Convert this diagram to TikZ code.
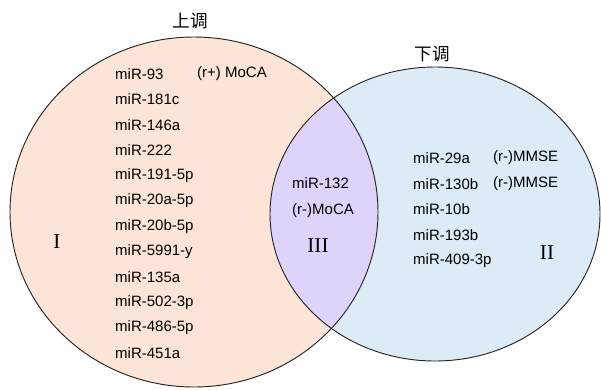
\documentclass[tikz,border=0pt]{standalone}
\usepackage{fontspec}
\setmainfont{Liberation Serif}
\setsansfont{Liberation Sans}
\newfontfamily\cjk{Noto Sans CJK SC}
\usetikzlibrary{positioning}
\definecolor{shang}{HTML}{FCE4D6}
\definecolor{xia}{HTML}{DDEBF7}
\definecolor{kozos}{HTML}{E0D3FB}
\tikzset{
  mir/.style={anchor=west,inner sep=0pt,font=\sffamily\fontsize{12.8}{15}\selectfont},
  rom/.style={inner sep=0pt,font=\fontsize{18}{20}\selectfont},
  cim/.style={inner sep=0pt,font=\cjk\fontsize{15}{18}\selectfont},
  kor/.style={draw=black!85,line width=0.8pt},
}

\begin{document}
\begin{tikzpicture}[x=0.03cm,y=-0.03cm]
  \useasboundingbox (0,0) rectangle (601,389);
  % the two sets and their overlap
  \fill[shang] (194,212) ellipse [x radius=184,y radius=175];
  \fill[xia] (435,214) ellipse [x radius=165,y radius=147];
  \begin{scope}
    \clip (194,212) ellipse [x radius=184,y radius=175];
    \fill[kozos] (435,214) ellipse [x radius=165,y radius=147];
  \end{scope}
  \draw[kor] (194,212) ellipse [x radius=184,y radius=175];
  \draw[kor] (435,214) ellipse [x radius=165,y radius=147];
  \node[cim] (fel) at (190,21) {上调};
  \node[cim] (le) at (432,54) {下调};
  % up
  \foreach \m [count=\i] in {93,181c,146a,222,191-5p,20a-5p,20b-5p,5991-y,135a,502-3p,486-5p,451a}
    \node[mir] (u\i) at (115,{74+25.4*(\i-1)}) {miR-\m};
  \node[mir] (u1r) at (197,74) {(r+) MoCA};
  \node[rom] (egy) at (57,242) {I};
  % common
  \node[mir] (k1) at (292,183) {miR-132};
  \node[mir] (k2) at (292,211) {(r-)MoCA};
  \node[rom] (har) at (318,246) {III};
  % down
  \foreach \m [count=\i] in {29a,130b,10b,193b,409-3p}
    \node[mir] (d\i) at (413,{158+25.7*(\i-1)}) {miR-\m};
  \node[mir] (d1r) at (493,158) {(r-)MMSE};
  \node[mir] (d2r) at (493,184) {(r-)MMSE};
  \node[rom] (ket) at (547,253) {II};
\end{tikzpicture}
\end{document}
